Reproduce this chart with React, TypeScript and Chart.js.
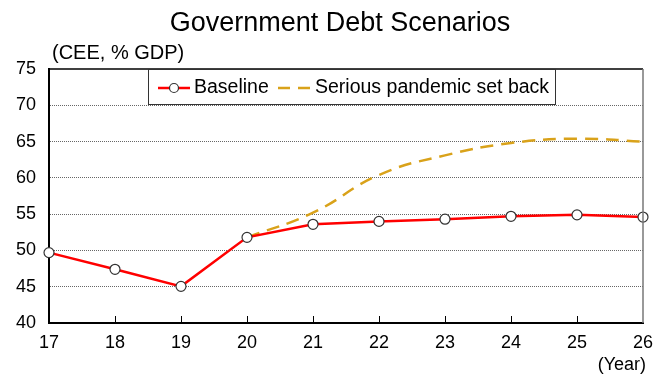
import React, { useEffect, useRef } from "react";
import { Chart, registerables } from "chart.js";

Chart.register(...registerables);

const TITLE = "Government Debt Scenarios";
const SUBTITLE = "(CEE, % GDP)";
const X_UNIT = "(Year)";
const years = ["17", "18", "19", "20", "21", "22", "23", "24", "25", "26"];
const baseline = [49.7, 47.4, 45.05, 51.8, 53.6, 54.0, 54.3, 54.7, 54.9, 54.6];
const pandemic = [null, null, null, 51.8, 55.2, 60.4, 63.1, 64.8, 65.4, 65.0];
const seriesLabels = ["Baseline", "Serious pandemic set back"];
const yMin = 40;
const yMax = 75;
const yStep = 5;

const FONT = "'Liberation Sans', Arial, sans-serif";
const RED = "#FF0000";
const GOLD = "#D9A21A";

export default function App() {
  const ref = useRef<HTMLCanvasElement | null>(null);

  useEffect(() => {
    document.body.style.margin = "0";
    const canvas = ref.current;
    if (!canvas) return;

    const decor = {
      id: "decor",
      afterDraw(chart: any) {
        const ctx = chart.ctx;
        const a = chart.chartArea;
        ctx.save();
        ctx.strokeStyle = "#000";
        ctx.lineWidth = 1.5;
        ctx.beginPath();
        ctx.moveTo(a.left, a.top);
        ctx.lineTo(a.right, a.top);
        ctx.stroke();
        ctx.strokeStyle = "#777";
        ctx.lineWidth = 1.5;
        ctx.beginPath();
        ctx.moveTo(a.right, a.top);
        ctx.lineTo(a.right, a.bottom);
        ctx.stroke();
        const xs = chart.scales.x;
        ctx.strokeStyle = "#000";
        ctx.lineWidth = 1;
        for (let i = 1; i < years.length - 1; i++) {
          const px = Math.round(xs.getPixelForValue(i)) + 0.5;
          ctx.beginPath();
          ctx.moveTo(px, a.bottom);
          ctx.lineTo(px, a.bottom - 7);
          ctx.stroke();
        }
        ctx.fillStyle = "#000";
        ctx.textBaseline = "middle";
        ctx.textAlign = "center";
        ctx.font = `27px ${FONT}`;
        ctx.fillText(TITLE, 340, 24);
        ctx.textAlign = "left";
        ctx.font = `20px ${FONT}`;
        ctx.fillText(SUBTITLE, 52, 53);
        ctx.textAlign = "right";
        ctx.font = `18px ${FONT}`;
        ctx.fillText(X_UNIT, 646, 365);

        const lx = 148, ly = a.top, lw = 407, lh = 35;
        ctx.fillStyle = "#fff";
        ctx.fillRect(lx, ly, lw, lh);
        ctx.strokeStyle = "#333";
        ctx.lineWidth = 1;
        ctx.strokeRect(lx + 0.5, ly + 0.5, lw, lh);
        const cy = ly + 19;
        ctx.strokeStyle = RED;
        ctx.lineWidth = 2.5;
        ctx.beginPath();
        ctx.moveTo(158, cy);
        ctx.lineTo(190, cy);
        ctx.stroke();
        ctx.fillStyle = "#fff";
        ctx.strokeStyle = "#333";
        ctx.lineWidth = 1.2;
        ctx.beginPath();
        ctx.arc(174, cy, 4.5, 0, Math.PI * 2);
        ctx.fill();
        ctx.stroke();
        ctx.fillStyle = "#000";
        ctx.textAlign = "left";
        ctx.font = `19.5px ${FONT}`;
        ctx.fillText(chart.data.datasets[0].label, 194, cy);
        ctx.strokeStyle = GOLD;
        ctx.lineWidth = 2.5;
        ctx.setLineDash([12, 8]);
        ctx.beginPath();
        ctx.moveTo(278, cy);
        ctx.lineTo(312, cy);
        ctx.stroke();
        ctx.setLineDash([]);
        ctx.fillText(chart.data.datasets[1].label, 315, cy);
        ctx.restore();
      },
    };

    const chart = new Chart(canvas, {
      type: "line",
      data: {
        labels: years,
        datasets: [
          {
            label: seriesLabels[0],
            data: baseline,
            borderColor: RED,
            borderWidth: 2.5,
            pointRadius: 5,
            pointBackgroundColor: "#fff",
            pointBorderColor: "#333",
            pointBorderWidth: 1.2,
            tension: 0,
          },
          {
            label: seriesLabels[1],
            data: pandemic,
            borderColor: GOLD,
            borderWidth: 2.5,
            borderDash: [13, 8],
            pointRadius: 0,
            tension: 0.45,
            spanGaps: false,
          },
        ],
      },
      options: {
        responsive: false,
        animation: false,
        layout: { padding: { top: 69, right: 13, left: 0, bottom: 0 } },
        plugins: { legend: { display: false }, title: { display: false }, tooltip: { enabled: false } },
        scales: {
          x: {
            type: "category",
            offset: false,
            grid: { display: false, drawTicks: false },
            border: { color: "#000", width: 2 },
            ticks: { color: "#000", font: { family: FONT, size: 18 }, padding: 9, maxRotation: 0, autoSkip: false },
            afterFit(scale: any) {
              scale.height = 51;
              scale.paddingLeft = 0;
              scale.paddingRight = 0;
            },
          },
          y: {
            min: yMin,
            max: yMax,
            grid: {
              drawTicks: false,
              color: (c: any) => (c.tick && (c.tick.value === yMin || c.tick.value === yMax) ? "rgba(0,0,0,0)" : "#666"),
              lineWidth: 1,
            },
            border: { color: "#000", width: 2, dash: [1, 1] as any },
            ticks: { stepSize: yStep, color: "#000", font: { family: FONT, size: 18 }, padding: 13 },
            afterFit(scale: any) {
              scale.width = 49;
              scale.paddingTop = 0;
              scale.paddingBottom = 0;
            },
          },
        },
      },
      plugins: [decor],
    });

    return () => chart.destroy();
  }, []);

  return <canvas ref={ref} width={656} height={374} style={{ display: "block" }} />;
}
